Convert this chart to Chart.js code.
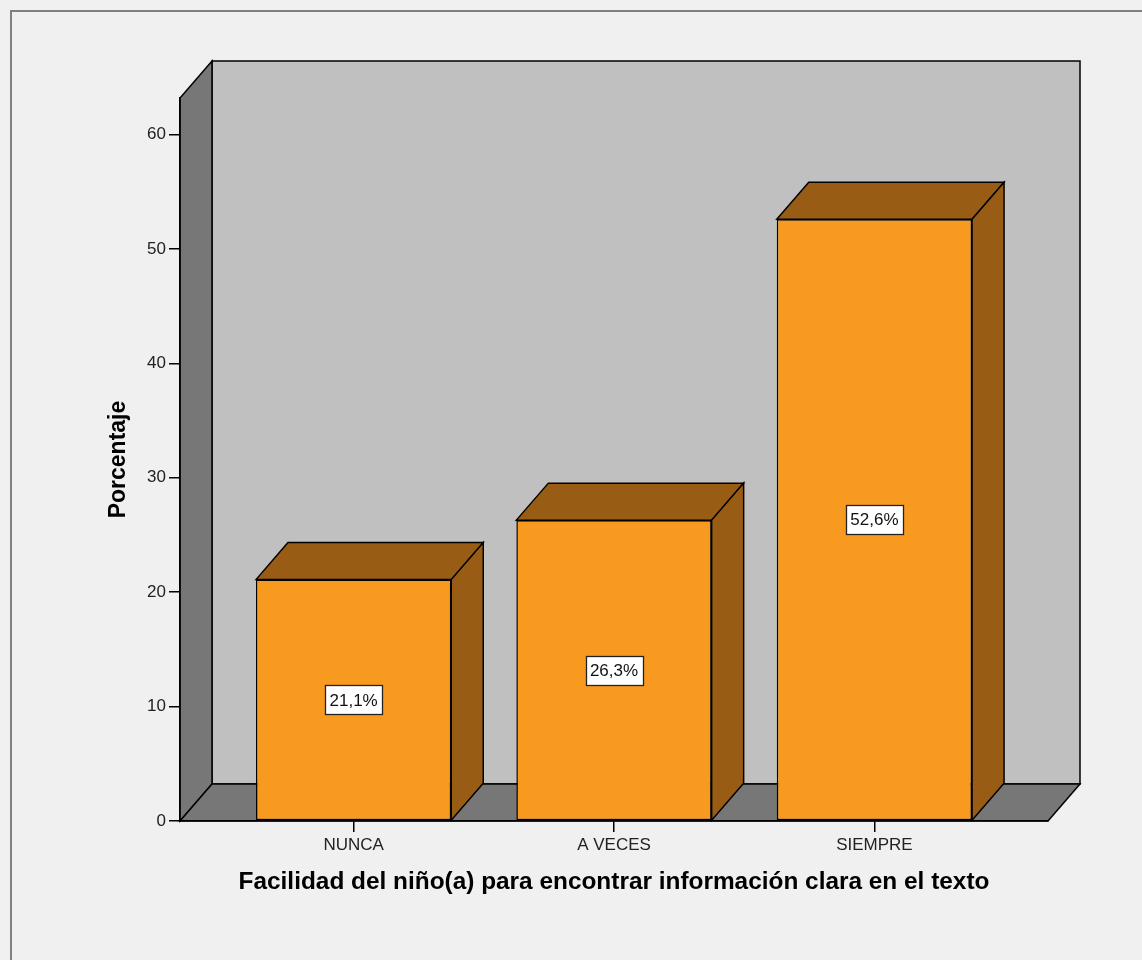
<!DOCTYPE html>
<html>
<head>
<meta charset="utf-8">
<script src="https://cdn.jsdelivr.net/npm/chart.js@4.4.1/dist/chart.umd.min.js"></script>
<style>
  html, body { margin: 0; padding: 0; background: #f0f0f0; }
  canvas { display: block; }
</style>
</head>
<body>
<canvas id="chart" width="1142" height="960"></canvas>
<script>
// Chart values
const categories = ['NUNCA', 'A VECES', 'SIEMPRE'];
const percentages = [21.1, 26.3, 52.6];
const yTickValues = [0, 10, 20, 30, 40, 50, 60];
const yMax = 63.2;
const xTitle = 'Facilidad del niño(a) para encontrar información clara en el texto';
const yTitle = 'Porcentaje';

// 3D look: depth offset of the box and bars
const DX = 32, DY = 37;
const FAMILY = '"Liberation Sans", Arial, Helvetica, sans-serif';
const COLORS = {
  page: '#f0f0f0',
  frame: '#808080',
  backWall: '#c0c0c0',
  sideWall: '#777777',
  barFront: '#f89a1f',
  barShade: '#995c14',
  line: '#000000'
};

function poly(ctx, pts, fill) {
  ctx.beginPath();
  ctx.moveTo(pts[0][0], pts[0][1]);
  for (let i = 1; i < pts.length; i++) ctx.lineTo(pts[i][0], pts[i][1]);
  ctx.closePath();
  ctx.fillStyle = fill;
  ctx.fill();
  ctx.stroke();
}

const fmt = v => v.toFixed(1).replace('.', ',') + '%';

const box3d = {
  id: 'box3d',
  beforeDraw(chart) {
    const { ctx, width, height } = chart;
    const xs = chart.scales.x, ys = chart.scales.y;
    ctx.save();
    ctx.fillStyle = COLORS.page;
    ctx.fillRect(0, 0, width, height);
    // outer frame
    ctx.strokeStyle = COLORS.frame;
    ctx.lineWidth = 2;
    ctx.beginPath();
    ctx.moveTo(11, height);
    ctx.lineTo(11, 11);
    ctx.lineTo(width, 11);
    ctx.stroke();
    // back wall, left wall and floor
    const L = xs.left, R = xs.right;
    const T = ys.getPixelForValue(yMax), B = ys.getPixelForValue(0);
    ctx.strokeStyle = COLORS.line;
    ctx.lineWidth = 1.5;
    ctx.lineJoin = 'miter';
    poly(ctx, [[L + DX, T - DY], [R + DX, T - DY], [R + DX, B - DY], [L + DX, B - DY]], COLORS.backWall);
    poly(ctx, [[L, B], [L, T], [L + DX, T - DY], [L + DX, B - DY]], COLORS.sideWall);
    poly(ctx, [[L, B], [R, B], [R + DX, B - DY], [L + DX, B - DY]], COLORS.sideWall);
    ctx.restore();
  },
  afterDatasetsDraw(chart) {
    const { ctx } = chart;
    const meta = chart.getDatasetMeta(0);
    const values = chart.data.datasets[0].data;
    ctx.save();
    ctx.strokeStyle = COLORS.line;
    ctx.lineWidth = 1.5;
    meta.data.forEach((bar) => {
      const { x, y, base, width } = bar.getProps(['x', 'y', 'base', 'width'], true);
      const l = x - width / 2, r = x + width / 2;
      // top face
      poly(ctx, [[l, y], [l + DX, y - DY], [r + DX, y - DY], [r, y]], COLORS.barShade);
      // right side face
      poly(ctx, [[r, y], [r + DX, y - DY], [r + DX, base - DY], [r, base]], COLORS.barShade);
    });
    // value labels
    ctx.font = '17px ' + FAMILY;
    ctx.textAlign = 'center';
    ctx.textBaseline = 'middle';
    meta.data.forEach((bar, i) => {
      const { x, y, base } = bar.getProps(['x', 'y', 'base'], true);
      const text = fmt(values[i].y);
      const tw = ctx.measureText(text).width;
      const bw = Math.round(tw + 9), bh = 29;
      const cy = (y + base) / 2;
      const bx = Math.round(x - bw / 2) + 0.5, by = Math.round(cy - bh / 2) + 0.5;
      ctx.fillStyle = '#ffffff';
      ctx.fillRect(bx, by, bw, bh);
      ctx.lineWidth = 1.3;
      ctx.strokeStyle = '#222';
      ctx.strokeRect(bx, by, bw, bh);
      ctx.fillStyle = '#111';
      ctx.fillText(text, x, cy + 1);
    });
    ctx.restore();
  }
};

new Chart(document.getElementById('chart'), {
  type: 'bar',
  data: {
    datasets: [{
      data: categories.map((c, i) => ({ x: i, y: percentages[i] })),
      backgroundColor: COLORS.barFront,
      borderColor: COLORS.line,
      borderWidth: 1.5,
      borderSkipped: false,
      barPercentage: 0.75,
      categoryPercentage: 1
    }]
  },
  options: {
    responsive: false,
    animation: false,
    events: [],
    layout: { padding: { left: 0, top: 98, right: 94, bottom: 0 } },
    plugins: { legend: { display: false }, tooltip: { enabled: false } },
    scales: {
      x: {
        type: 'linear',
        offset: false,
        min: -2 / 3,
        max: 8 / 3,
        afterBuildTicks(s) { s.ticks = categories.map((_, i) => ({ value: i })); },
        afterFit(s) { s.height = 139; },
        ticks: {
          callback: v => categories[v],
          font: { family: FAMILY, size: 17 },
          color: '#222',
          padding: 3,
          autoSkip: false,
          maxRotation: 0
        },
        grid: { offset: false, drawOnChartArea: false, color: COLORS.line, tickLength: 11, lineWidth: 1.5 },
        border: { color: COLORS.line, width: 1.5 },
        title: {
          display: true,
          text: xTitle,
          color: '#000',
          font: { family: FAMILY, size: 24.4, weight: 'bold' },
          padding: { top: 0, bottom: 63 }
        }
      },
      y: {
        min: 0,
        max: yMax,
        afterBuildTicks(s) { s.ticks = yTickValues.map(v => ({ value: v })); },
        afterFit(s) { s.width = 180; },
        ticks: {
          font: { family: FAMILY, size: 17 },
          color: '#222',
          padding: 3
        },
        grid: { drawOnChartArea: false, color: COLORS.line, tickLength: 11, lineWidth: 1.5 },
        border: { color: COLORS.line, width: 1.5 },
        title: {
          display: true,
          text: yTitle,
          color: '#000',
          font: { family: FAMILY, size: 23, weight: 'bold' },
          padding: { top: 105, bottom: 0 }
        }
      }
    }
  },
  plugins: [box3d]
});
</script>
</body>
</html>
